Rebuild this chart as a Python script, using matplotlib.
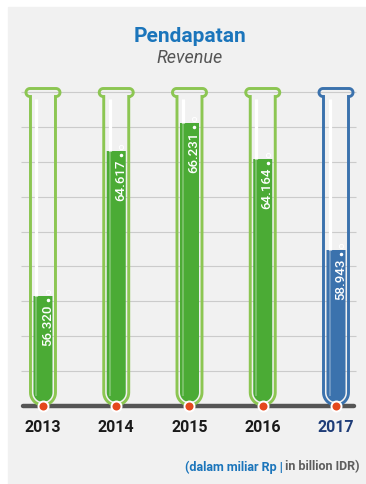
import numpy as np
import matplotlib
matplotlib.use('Agg')
import matplotlib.pyplot as plt
import matplotlib.transforms as mtransforms
from matplotlib.path import Path
from matplotlib.patches import PathPatch, Rectangle

# data (dalam miliar Rp)
years = ['2013', '2014', '2015', '2016', '2017']
revenue = [56.320, 64.617, 66.231, 64.164, 58.943]
bar_colors = ['#4bab35'] * 4 + ['#3b72ad']
tube_colors = ['#8cc652'] * 4 + ['#3b72ad']
year_colors = ['#1a1a1a'] * 4 + ['#1f3d78']

plt.rcParams['font.family'] = ['Roboto', 'DejaVu Sans']

W, H, DPI = 366, 484, 100
fig = plt.figure(figsize=(W / DPI, H / DPI), dpi=DPI)
fig.patch.set_facecolor('white')
fig.add_artist(Rectangle((8 / W, 0), 1, 1 - 7 / H, transform=fig.transFigure,
                         color='#f1f1f1', zorder=0))

ax = fig.add_axes([21 / W, 78 / H, 335 / W, 314 / H])
ax.set_xlim(-0.3, 4.273)
ax.set_ylim(50, 68)
ax.set_axis_off()

ax.hlines(np.arange(52, 69, 2), -0.3, 4.273, color='#cbcbcb', lw=0.8, zorder=1, clip_on=False)
ax.plot([-0.27, 4.24], [50, 50], color='#555555', lw=3.2, solid_capstyle='round',
        zorder=2, clip_on=False)


def px(dx, dy):
    # offset in pixels
    return mtransforms.ScaledTranslation(dx / DPI, dy / DPI, fig.dpi_scale_trans)


def arc(cx, cy, r, a0, a1, n=24):
    t = np.radians(np.linspace(a0, a1, n))
    return np.column_stack([cx + r * np.cos(t), cy + r * np.sin(t)])


# tube outline, pixels relative to (centre, baseline)
hw, lip_w, lip_b, lip_t = 12.5, 17.0, 309.5, 317.5
lr = (lip_t - lip_b) / 2
tube_pts = np.vstack([
    [[-hw, 13.5], [-hw, lip_b], [-lip_w + lr, lip_b]],
    arc(-lip_w + lr, lip_b + lr, lr, 270, 90),
    [[lip_w - lr, lip_t]],
    arc(lip_w - lr, lip_b + lr, lr, 90, -90),
    [[hw, lip_b], [hw, 13.5]],
    arc(0, 13.5, hw, 0, -180),
])
tube_path = Path(tube_pts, closed=True)

iw = 9.5
clip_pts = np.vstack([[[-iw, 330]], arc(0, 13.5, iw, 180, 360), [[iw, 330], [-iw, 330]]])
clip_path = Path(clip_pts, closed=True)

x = np.arange(len(years))
bars = ax.bar(x, [v - 50 for v in revenue], bottom=50, width=20 / 73.25,
              color=bar_colors, zorder=3)

for i, (v, b) in enumerate(zip(revenue, bars)):
    tr = (mtransforms.Affine2D().scale(1 / DPI) + fig.dpi_scale_trans
          + mtransforms.ScaledTranslation(i, 50, ax.transData))
    b.set_clip_path(clip_path, tr)
    ax.add_patch(PathPatch(tube_path, transform=tr, fill=False, ec=tube_colors[i],
                           lw=2.1, zorder=5, clip_on=False))
    # glass highlight
    ax.plot([i, i], [v, 67.6], color='white', lw=2.3, solid_capstyle='butt',
            transform=ax.transData + px(-6.5, 0), zorder=4, clip_on=False)
    ax.plot([i, i], [50.6, v], color='white', alpha=0.3, lw=1.2, solid_capstyle='butt',
            transform=ax.transData + px(-6.5, 0), zorder=4)
    # bubbles
    ax.plot(i, v, 'o', ms=3, mfc='none', mec='white', mew=0.7,
            transform=ax.transData + px(5, 4), zorder=6, clip_on=False)
    ax.plot(i, v, 'o', ms=1.5, color='white',
            transform=ax.transData + px(5, -4), zorder=6)
    ax.text(i, v, f'{v:.3f}', transform=ax.transData + px(4.5, -9), rotation=90,
            ha='center', va='top', color='white', fontsize=9.5, fontweight='medium', zorder=7)
    ax.text(i, 50, years[i], transform=ax.transData + px(0, -22), ha='center',
            va='center', fontsize=11.5, fontweight='bold', color=year_colors[i])

ax.plot(x, [50] * len(x), 'o', ms=7.2, mfc='#e4481d', mec='white', mew=1.4,
        zorder=8, clip_on=False)

fig.text(190 / W, 1 - 36 / H, 'Pendapatan', ha='center', va='center', fontsize=15,
         fontweight='bold', color='#1b75bb')
fig.text(190 / W, 1 - 58 / H, 'Revenue', ha='center', va='center', fontsize=13,
         style='italic', color='#555555')

fy = 1 - 467 / H
t2 = fig.text(360 / W, fy, ' in billion IDR)', ha='right', va='center', fontsize=9,
              fontweight='bold', color='#5e5e5e')
fig.canvas.draw()
bb = t2.get_window_extent(fig.canvas.get_renderer())
fig.text(bb.x0 / W, fy, '(dalam miliar Rp |', ha='right', va='center', fontsize=9,
         fontweight='bold', color='#1b75bb')

fig.savefig('out.png', dpi=DPI)
